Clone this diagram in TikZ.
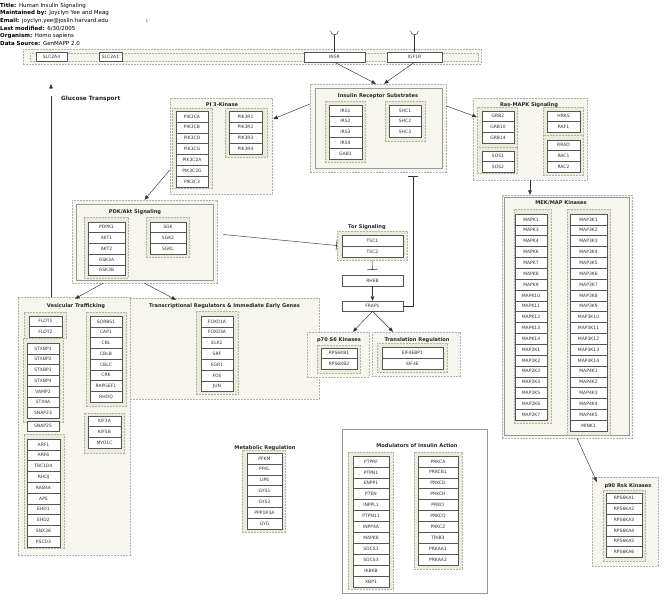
\documentclass[tikz,border=0pt]{standalone}
\usepackage{fontspec}
\setmainfont{DejaVu Sans}
\usetikzlibrary{arrows.meta}
\definecolor{catfill}{HTML}{F6F6EE}
\definecolor{grpfill}{HTML}{ECECDC}
\definecolor{dashc}{HTML}{B0B0A4}
\definecolor{genec}{HTML}{555555}
\definecolor{linec}{HTML}{333333}
\tikzset{
 cat/.style={draw=dashc, dash pattern=on 2pt off 1pt, fill=catfill, line width=0.4pt, inner sep=0},
 grp/.style={draw=dashc, dash pattern=on 2pt off 1pt, fill=grpfill, line width=0.4pt, inner sep=0},
 grpline/.style={draw=dashc, dash pattern=on 2pt off 1pt, line width=0.4pt, inner sep=0},
 solidbox/.style={draw=gray!80, line width=0.6pt, inner sep=0},
 gene/.style={draw=genec, fill=white, line width=0.45pt, inner sep=0, font=\fontsize{4.5}{5}\selectfont, text=black!80},
 ttl/.style={font=\bfseries\fontsize{5.1}{6}\selectfont, inner sep=0, text=black!85},
 hdr/.style={font=\fontsize{5.5}{6}\selectfont, inner sep=0, anchor=west},
 act/.style={draw=linec, line width=0.45pt, -{Triangle[length=4.5pt,width=3.6pt]}},
 inh/.style={draw=linec, line width=0.45pt, -{Bar[width=10pt,line width=0.6pt]}},
}
\newcommand\bx[6]{\node[#1, minimum width={(#5-#3)*1pt}, minimum height={(#6-#4)*1pt}] (#2) at ({(#3+#5)/2},{(#4+#6)/2}) {};}
\newcommand\gbx[5]{\node[gene, minimum width={(#4-#2)*1pt}, minimum height={(#5-#3)*1pt}] (#1) at ({(#2+#4)/2},{(#3+#5)/2}) {#1};}
\newcommand\gcol[6]{%
 \foreach \g [count=\i from 0] in {#6}{%
   \pgfmathsetmacro\yc{#4+(\i+0.5)*#5}%
   \node[gene, minimum width={(#3-#2)*1pt}, minimum height={#5*1pt}] (#1\g) at ({(#2+#3)/2},\yc) {\g};
 }}
\begin{document}
\begin{tikzpicture}[x=1pt,y=-1pt]
\useasboundingbox[fill=white] (0,0) rectangle (666,600);
% header
\node[hdr] (h1) at (0,5.5) {\textbf{Title:}\enspace Human Insulin Signaling};
\node[hdr] (h2) at (0,13) {\textbf{Maintained by:}\enspace Joyclyn Yee and Meag};
\node[hdr] (h3) at (0,21) {\textbf{Email:}\enspace joyclyn.yee@joslin.harvard.edu};
\node[hdr] (h4) at (0,28.5) {\textbf{Last modified:}\enspace 6/30/2005};
\node[hdr] (h5) at (0,36) {\textbf{Organism:}\enspace Homo sapiens};
\node[hdr] (h6) at (0,43) {\textbf{Data Source:}\enspace GenMAPP 2.0};
\node[font=\fontsize{3.5}{4}\selectfont, inner sep=0, text=blue!60!black] (h7) at (147,21) {1};
% membrane
\bx{cat}{memb}{23}{49}{481}{64}
\bx{grpline}{membin}{30}{53}{478}{61}
\gbx{SLC2A4}{36}{52}{67}{61}
\gbx{SLC2A1}{99}{52}{122}{61}
\gbx{INSR}{304}{52}{365}{62}
\gbx{IGF1R}{387}{52}{442}{62}
% receptor ligand symbols
\draw[linec, line width=0.45pt] (INSR.north) -- ++(0,-17) coordinate (insrtop);
\draw[linec, line width=0.45pt] ([xshift=-4pt]insrtop) ++(0,-4) arc[start angle=180,end angle=360,radius=4pt];
\draw[linec, line width=0.45pt] (IGF1R.north) -- ++(0,-17) coordinate (igftop);
\draw[linec, line width=0.45pt] ([xshift=-4pt]igftop) ++(0,-4) arc[start angle=180,end angle=360,radius=4pt];
% categories
\bx{cat}{pikCat}{170}{98}{272}{194}
\bx{cat}{irsCat}{310}{84}{446}{172}
\bx{solidbox}{irsIn}{315}{88}{442}{168}
\bx{cat}{rasCat}{473}{98}{587}{180}
\bx{cat}{pdkCat}{72}{200}{217}{283}
\bx{solidbox}{pdkIn}{76}{204}{213}{280}
\bx{cat}{mekCat}{502}{195}{632}{438}
\bx{solidbox}{mekIn}{504}{197}{629}{435}
\bx{cat}{vesCat}{18}{297}{130}{555}
\bx{cat}{trCat}{130}{298}{319}{399}
\bx{cat}{p70Cat}{307}{332}{369}{377}
\bx{cat}{tlCat}{372}{332}{460}{376}
\bx{cat}{p90Cat}{592}{477}{658}{566}
\bx{solidbox}{modBox}{342}{429}{487}{593}
% groups
\bx{grp}{gPikA}{172}{108}{212}{188}
\bx{grp}{gPikB}{225}{108}{267}{157}
\bx{grp}{gIrs}{325}{101}{365}{162}
\bx{grp}{gShc}{385}{101}{425}{141}
\bx{grp}{gGrb}{477}{107}{517}{147}
\bx{grp}{gSos}{477}{147}{517}{173}
\bx{grp}{gHras}{543}{107}{583}{135}
\bx{grp}{gRrad}{543}{135}{583}{175}
\bx{grp}{gPdk}{84}{217}{128}{278}
\bx{grp}{gSgk}{146}{217}{189}{257}
\bx{grp}{gMekA}{514}{209}{551}{423}
\bx{grp}{gMekB}{567}{209}{610}{435}
\bx{grp}{gTor}{337}{231}{407}{260}
\bx{grp}{gFlot}{24}{312}{66}{338}
\bx{grp}{gStx}{23}{338}{63}{422}
\bx{grp}{gArf}{24}{434}{64}{548}
\bx{grp}{gSorbs}{86}{312}{126}{406}
\bx{grp}{gKif}{84}{413}{124}{453}
\bx{grp}{gTr}{196}{311}{238}{394}
\bx{grp}{gP70}{317}{345}{360}{373}
\bx{grp}{gTl}{377}{343}{447}{372}
\bx{grp}{gMet}{242}{450}{285}{532}
\bx{grp}{gModA}{348}{452}{393}{589}
\bx{grp}{gModB}{414}{452}{462}{569}
\bx{grp}{gP90}{603}{490}{645}{561}
% genes
\gcol{}{176}{208}{111}{10.9}{PIK3CA,PIK3CB,PIK3CD,PIK3CG,PIK3C2A,PIK3C2G,PIK3C3}
\gcol{}{229}{262}{111}{10.9}{PIK3R1,PIK3R2,PIK3R3,PIK3R4}
\gcol{}{329}{362}{105}{10.8}{IRS1,IRS2,IRS3,IRS4,GAB1}
\gcol{}{389}{421}{105}{10.8}{SHC1,SHC2,SHC3}
\gcol{}{482}{514}{111}{10.7}{GRB2,GRB10,GRB14}
\gcol{}{482}{514}{151}{10.5}{SOS1,SOS2}
\gcol{}{547}{580}{111}{10.7}{HRAS,RAF1}
\gcol{}{547}{580}{140}{10.7}{RRAD,RAC1,RAC2}
\gcol{}{88}{125}{222}{10.7}{PDPK1,AKT1,AKT2,GSK3A,GSK3B}
\gcol{}{150}{186}{222}{10.7}{SGK,SGK2,SGKL}
\gcol{mek}{515}{547}{214}{10.85}{MAPK1,MAPK3,MAPK4,MAPK6,MAPK7,MAPK8,MAPK9,MAPK10,MAPK11,MAPK12,MAPK13,MAPK14,MAP2K1,MAP2K2,MAP2K3,MAP2K4,MAP2K5,MAP2K6,MAP2K7}
\gcol{}{570}{607}{214}{10.85}{MAP3K1,MAP3K2,MAP3K3,MAP3K4,MAP3K5,MAP3K6,MAP3K7,MAP3K8,MAP3K9,MAP3K10,MAP3K11,MAP3K12,MAP3K13,MAP3K14,MAP4K1,MAP4K2,MAP4K3,MAP4K4,MAP4K5,MINK1}
\gcol{}{342}{403}{235}{11}{TSC1,TSC2}
\gbx{RHEB}{342}{275}{403}{286}
\gbx{FRAP1}{342}{301}{403}{311}
\gcol{}{321}{357}{348}{10.7}{RPS6KB1,RPS6KB2}
\gcol{}{382}{443}{347}{11}{EIF4EBP1,EIF4E}
\gcol{}{29}{62}{316}{10.6}{FLOT1,FLOT2}
\gcol{}{27}{59}{343}{10.75}{STXBP1,STXBP2,STXBP3,STXBP4,VAMP2,STX4A,SNAP23}
\gbx{SNAP25}{27}{421}{59}{431}
\gcol{}{27}{60}{439}{10.8}{ARF1,ARF6,TBC1D4,RHOJ,RAB4A,APS,EHD1,EHD2,SNX26,PSCD3}
\gcol{}{90}{122}{316}{10.75}{SORBS1,CAP1,CBL,CBLB,CBLC,CRK,RAPGEF1,RHOQ}
\gcol{}{88}{121}{416}{10.7}{KIF3A,KIF5B,MYO1C}
\gcol{}{201}{233}{316}{10.8}{FOXO1A,FOXO3A,ELK1,SRF,EGR1,FOS,JUN}
\gcol{}{247}{282}{453}{10.86}{PFKM,PFKL,LIPE,GYS1,GYS2,PPP1R3A,GYG}
\gcol{mod}{353}{389}{456}{10.9}{PTPRF,PTPN1,ENPP1,PTEN,INPPL1,PTPN11,INPP4A,MAPK8,SOCS1,SOCS3,IKBKB,XBP1}
\gcol{}{418}{458}{456}{10.9}{PRKCA,PRKCB1,PRKCD,PRKCH,PRKCI,PRKCQ,PRKCZ,TRIB3,PRKAA1,PRKAA2}
\gcol{}{606}{642}{493}{10.7}{RPS6KA1,RPS6KA2,RPS6KA3,RPS6KA4,RPS6KA5,RPS6KA6}
% titles
\node[ttl] (tIrs) at (378,96) {Insulin Receptor Substrates};
\node[ttl] (tPik) at (222,105) {PI 3-Kinase};
\node[ttl] (tRas) at (529,105) {Ras-MAPK Signaling};
\node[ttl] (tPdk) at (135,212) {PDK/Akt Signaling};
\node[ttl] (tTor) at (367,227) {Tor Signaling};
\node[ttl] (tMek) at (561,203) {MEK/MAP Kinases};
\node[ttl] (tVes) at (76,306) {Vesicular Trafficking};
\node[ttl] (tTr) at (224.5,306) {Transcriptional Regulators \& Immediate Early Genes};
\node[ttl] (tP70) at (339,340) {p70 S6 Kinases};
\node[ttl] (tTl) at (417,340) {Translation Regulation};
\node[ttl] (tMet) at (265,448) {Metabolic Regulation};
\node[ttl] (tMod) at (417,446) {Modulators of Insulin Action};
\node[ttl] (tP90) at (628,486) {p90 Rsk Kinases};
\node[ttl, anchor=west, font=\bfseries\fontsize{5.8}{7}\selectfont] (tGlu) at (61,99) {Glucose Transport};
% connectors
\draw[act] (INSR.south) -- ([xshift=-2pt]irsCat.north);
\draw[act] (IGF1R.south) -- ([xshift=6pt]irsCat.north);
\draw[act] ([yshift=24pt]irsCat.west) -- ([yshift=27pt,xshift=1pt]pikCat.east);
\draw[act] ([yshift=22pt]irsCat.east) -- ([yshift=10pt]gGrb.west);
\draw[act] (rasCat.south) -- (rasCat.south |- mekCat.north);
\draw[act] ([yshift=-24pt]pikCat.west) -- (pdkCat.north);
\draw[inh] ([xshift=6pt,yshift=7pt]pdkCat.east) -- (gTor.west);
\draw[inh] (gTor.south) -- ([yshift=5pt]RHEB.north);
\draw[act] (RHEB.south) -- (FRAP1.north);
\draw[inh] (FRAP1.east) -| ([xshift=35pt,yshift=-4pt]irsCat.south);
\draw[act] (FRAP1.south) -- ([xshift=15pt]p70Cat.north);
\draw[act] (FRAP1.south) -- ([xshift=-23pt]tlCat.north);
\draw[act] ([xshift=-41.5pt]pdkCat.south) -- ([xshift=1pt,yshift=-2pt]vesCat.north);
\draw[act] (pdkCat.south) -- ([xshift=-48.5pt,yshift=-2pt]trCat.north);
\draw[act] ([xshift=10pt]mekCat.south) -- ([xshift=5pt,yshift=-5pt]p90Cat.north west);
\draw[act] ([xshift=-23pt]vesCat.north) -- ([xshift=-23pt]vesCat.north |- tGlu.north) ++(0,-12);
\end{tikzpicture}
\end{document}
